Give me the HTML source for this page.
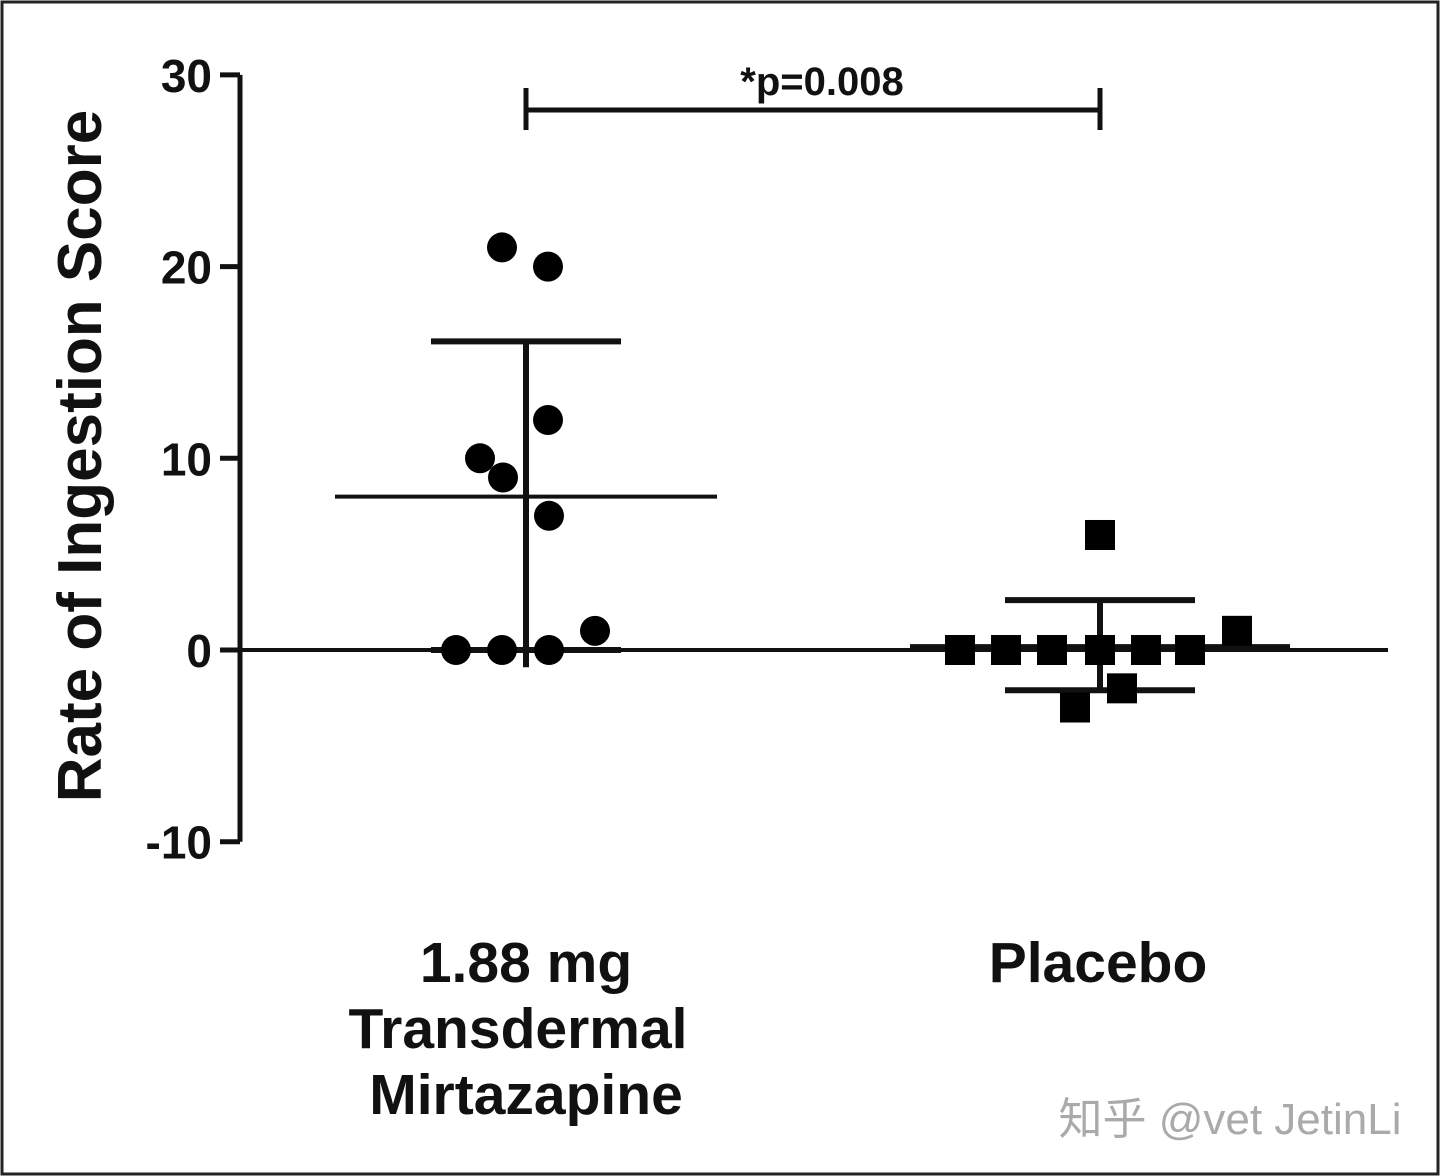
<!DOCTYPE html>
<html><head><meta charset="utf-8"><style>
html,body{margin:0;padding:0;background:#fff;}
svg{display:block;}
text{font-family:"Liberation Sans","Noto Sans CJK SC",sans-serif;}
</style></head><body>
<svg id="chart" width="1440" height="1176" viewBox="0 0 1440 1176">
<rect x="2" y="2" width="1436" height="1172" fill="#fff" stroke="#222" stroke-width="3"/>
<g id="axes"></g>
<g id="marks"></g>
<text x="1230" y="1134" font-size="44" fill="#aaa" text-anchor="middle">知乎 @vet JetinLi</text>
</svg>
<script>
const categories = ["1.88 mg|Transdermal|Mirtazapine", "Placebo"];
const groupX = [526, 1100];
const mirtX = [502, 548, 548, 480, 503, 549, 595, 456, 502, 549];
const mirtVals = [21, 20, 12, 10, 9, 7, 1, 0, 0, 0];
const placX = [1100, 1237, 960, 1006, 1052, 1100, 1146, 1190, 1122, 1075];
const placVals = [6, 1, 0, 0, 0, 0, 0, 0, -2, -3];
const means = [8.0, 0.2];
const sdHigh = [16.1, 2.6];
const sdLow = [0.0, -2.1];
const stemLow = [-0.9, -2.1];
const yTicks = [30, 20, 10, 0, -10];
const pLabel = "*p=0.008";

const NS = "http://www.w3.org/2000/svg";
function y(v){ return 650 - v * 19.17; }
function mk(tag, attrs, parent, txt){
  const e = document.createElementNS(NS, tag);
  for (const k in attrs) e.setAttribute(k, attrs[k]);
  if (txt !== undefined) e.textContent = txt;
  parent.appendChild(e);
  return e;
}
const axes = document.getElementById('axes');
const marks = document.getElementById('marks');

let e = mk('line', {x1:240, x2:240, y1:y(30), y2:y(-10), stroke:'#111', 'stroke-width':5}, axes);


yTicks.forEach(t => {
  const l = mk('line', {x1:220, x2:240, y1:y(t), y2:y(t), stroke:'#111', 'stroke-width':5}, axes);
  
  
  const tx = mk('text', {x:212, y:y(t)+17, 'font-size':46, 'font-weight':'bold', 'text-anchor':'end', fill:'#111'}, axes, String(t));
  
  
});
e = mk('line', {x1:222, x2:1388, y1:y(0), y2:y(0), stroke:'#111', 'stroke-width':4}, axes);


e = mk('text', {x:0, y:0, 'font-size':62, 'font-weight':'bold', 'text-anchor':'middle', fill:'#111', transform:'translate(101,456) rotate(-90)'}, axes, 'Rate of Ingestion Score');



const lineShift = [[0, -8, 0], [-2]];
categories.forEach((c, i) => {
  c.split('|').forEach((ln, j) => {
    const t = mk('text', {x:groupX[i]+lineShift[i][j], y:982+j*66, 'font-size':57, 'font-weight':'bold', 'text-anchor':'middle', fill:'#111'}, axes, ln);
    
    
  });
});

e = mk('path', {d:`M${groupX[0]},88 V130 M${groupX[0]},110 H${groupX[1]} M${groupX[1]},88 V130`, stroke:'#111', 'stroke-width':5, fill:'none'}, marks);


e = mk('text', {x:822, y:95, 'font-size':40, 'font-weight':'bold', 'text-anchor':'middle', fill:'#111'}, marks, pLabel);



const meanHalf = [191, 190], capHalf = [95, 95];
groupX.forEach((gx, i) => {
  const w = mk('path', {d:`M${gx},${y(sdHigh[i])} V${y(stemLow[i])} M${gx-capHalf[i]},${y(sdHigh[i])} H${gx+capHalf[i]} M${gx-capHalf[i]},${y(sdLow[i])} H${gx+capHalf[i]}`, stroke:'#111', 'stroke-width':6, fill:'none'}, marks);
  
  
  const m = mk('line', {x1:gx-meanHalf[i], x2:gx+meanHalf[i], y1:y(means[i]), y2:y(means[i]), stroke:'#111', 'stroke-width':4}, marks);
  
  
});

mirtVals.forEach((v, i) => {
  const c = mk('circle', {cx:mirtX[i], cy:y(v), r:15, fill:'#000'}, marks);
  
  
});
placVals.forEach((v, i) => {
  const r = mk('rect', {x:placX[i]-15, y:y(v)-15, width:30, height:30, fill:'#000'}, marks);
  
  
});
</script>
</body></html>
